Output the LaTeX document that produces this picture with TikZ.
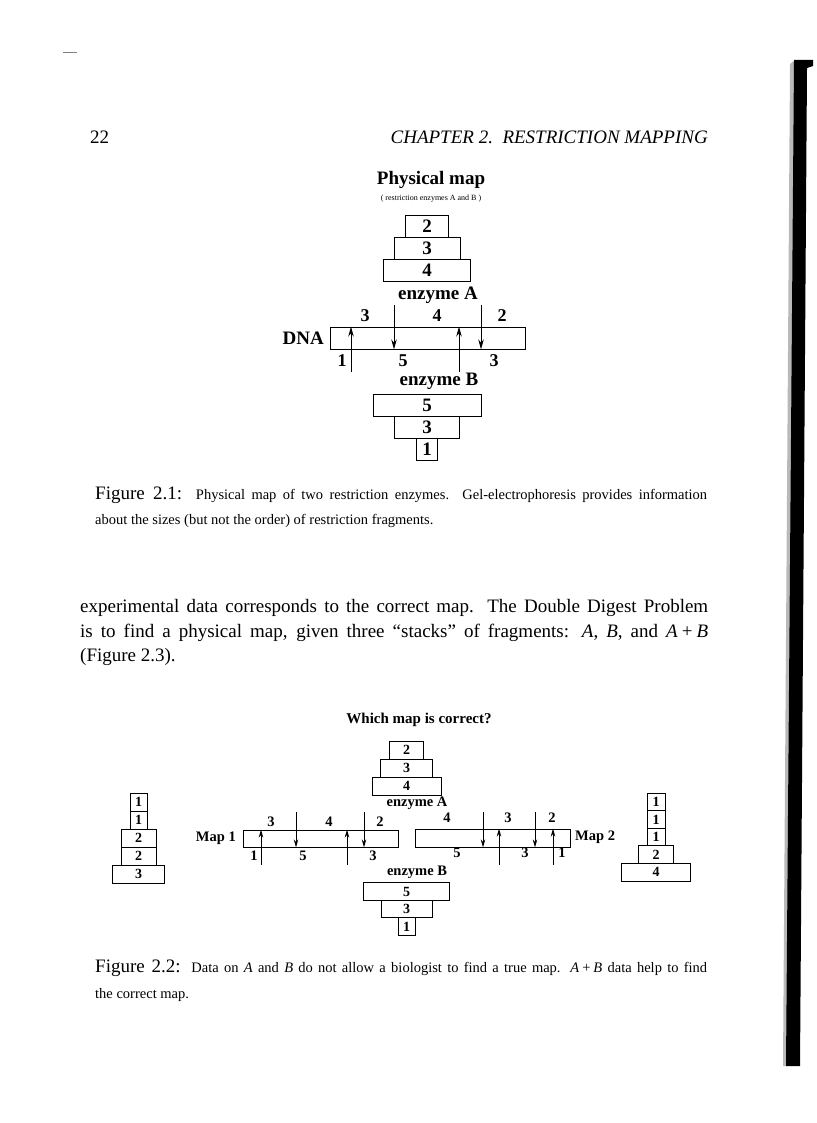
\documentclass[tikz,border=0pt]{standalone}
\usepackage{fontspec}
\setmainfont{Liberation Serif}
\usetikzlibrary{arrows.meta}

\newcommand{\fsz}[1]{\fontsize{#1}{#1}\selectfont}

\begin{document}
\begin{tikzpicture}[x=1pt, y=-1pt,
  frag/.style={draw, line width=0.8pt, inner sep=0pt, minimum height=22pt, font=\bfseries\fsz{19}},
  fragS/.style={frag, minimum height=18pt, font=\bfseries\fsz{14}},
  lbl/.style={inner sep=0pt, font=\bfseries\fsz{18}},
  lblS/.style={inner sep=0pt, font=\bfseries\fsz{14.5}},
  cut/.style={-{Stealth[length=10pt,width=5.5pt]}, line width=1pt},
  cutS/.style={-{Stealth[length=8pt,width=4.5pt]}, line width=0.9pt},
  txt/.style={inner sep=0pt, anchor=base west}]
  \useasboundingbox (0,0) rectangle (816,1123);

  % Cabecera
  \draw[gray, line width=1pt] (63,53) -- (77,53);
  \node[txt, font=\fsz{19}] (pag) at (90,144) {22};
  \node[inner sep=0pt, anchor=base east, font=\itshape\fsz{19}] (cap) at (708,144) {CHAPTER 2.\ \ RESTRICTION MAPPING};

  % Borde del escaneo
  \fill[gray!55] (790,64) -- (795,60) -- (788,1066) -- (783,1066) -- cycle;
  \fill (794,60) -- (813,60) -- (813,66) -- (807,68) -- (800,1066) -- (786,1066) -- cycle;

  % Mapa fisico
  \node[inner sep=0pt, font=\bfseries\fsz{19}] (titulo) at (431,180) {Physical map};
  \node[inner sep=0pt, font=\fsz{8}] (sub) at (431,199) {( restriction enzymes A and B )};

  % Fragmentos de la enzima A
  \node[frag, minimum width=43pt] (a2) at (427,226) {2};
  \node[frag, minimum width=66pt] (a3) at (427,248) {3};
  \node[frag, minimum width=87pt] (a4) at (427,270) {4};
  \node[lbl, font=\bfseries\fsz{19}] (enzA) at (438,295) {enzyme A};

  % ADN
  \node[frag, minimum width=195pt] (dna) at (427.5,338) {};
  \node[inner sep=0pt, anchor=east, font=\bfseries\fsz{19}] (dnal) at (324,338) {DNA};
  \node[lbl] at (365,316) {3};
  \node[lbl] at (437,316) {4};
  \node[lbl] at (502,316) {2};
  \node[lbl] at (342,361) {1};
  \node[lbl] at (403,361) {5};
  \node[lbl] at (494,361) {3};

  % Cortes
  \coordinate (ca1) at (394,305);
  \coordinate (ca2) at (481,305);
  \coordinate (cb1) at (351,372);
  \coordinate (cb2) at (459,372);
  \draw[cut] (ca1) -- (ca1 |- dna.south);
  \draw[cut] (ca2) -- (ca2 |- dna.south);
  \draw[cut] (cb1) -- (cb1 |- dna.north);
  \draw[cut] (cb2) -- (cb2 |- dna.north);

  % Fragmentos de la enzima B
  \node[lbl, font=\bfseries\fsz{19}] (enzB) at (439,381) {enzyme B};
  \node[frag, minimum width=108pt] (b5) at (427,405) {5};
  \node[frag, minimum width=65pt] (b3) at (427,427) {3};
  \node[frag, minimum width=21pt] (b1) at (427,449) {1};

  % Pie de la figura 2.1
  \node[txt] (pie1) at (95,499) {\makebox[612pt][s]{\fsz{19}Figure 2.1: \fsz{14.5}Physical map of two restriction enzymes. Gel-electrophoresis provides information}};
  \node[txt, font=\fsz{14.5}] (pie1b) at (95,524) {about the sizes (but not the order) of restriction fragments.};

  % Texto
  \node[txt, font=\fsz{19}] (t1) at (80,612) {\makebox[628pt][s]{experimental data corresponds to the correct map. The Double Digest Problem}};
  \node[txt, font=\fsz{19}] (t2) at (80,637) {\makebox[628pt][s]{is to find a physical map, given three “stacks” of fragments: \textit{A}, \textit{B}, and \textit{A}\hspace{4pt}+\hspace{4pt}\textit{B}}};
  \node[txt, font=\fsz{19}] (t3) at (80,661) {(Figure 2.3).};

  % Figura 2.2
  \node[lblS, font=\bfseries\fsz{15}] (preg) at (419,720) {Which map is correct?};

  % Enzima A
  \node[fragS, minimum width=34pt] (p2) at (406.5,750) {2};
  \node[fragS, minimum width=52pt] (p3) at (406.5,768) {3};
  \node[fragS, minimum width=69pt] (p4) at (406.5,786) {4};
  \node[lblS] (eA) at (417,803) {enzyme A};

  % Mapa 1
  \node[fragS, minimum height=17pt, minimum width=155pt] (m1) at (320.5,838.5) {};
  \node[lblS, anchor=east] (m1l) at (236,838) {Map 1};
  \node[lblS] at (271,822) {3};
  \node[lblS] at (329,822) {4};
  \node[lblS] at (380,822) {2};
  \node[lblS] at (254,856) {1};
  \node[lblS] at (303,856) {5};
  \node[lblS] at (373,856) {3};
  \coordinate (m1a1) at (296,812);
  \coordinate (m1a2) at (364,812);
  \coordinate (m1b1) at (261,865);
  \coordinate (m1b2) at (347,865);
  \draw[cutS] (m1a1) -- (m1a1 |- m1.south);
  \draw[cutS] (m1a2) -- (m1a2 |- m1.south);
  \draw[cutS] (m1b1) -- (m1b1 |- m1.north);
  \draw[cutS] (m1b2) -- (m1b2 |- m1.north);

  % Mapa 2
  \node[fragS, minimum width=155pt] (m2) at (492.5,838) {};
  \node[lblS, anchor=west] (m2l) at (575,837) {Map 2};
  \node[lblS] at (447,818) {4};
  \node[lblS] at (508,818) {3};
  \node[lblS] at (552,818) {2};
  \node[lblS] at (457,853) {5};
  \node[lblS] at (525,853) {3};
  \node[lblS] at (562,853) {1};
  \coordinate (m2a1) at (483,812);
  \coordinate (m2a2) at (535,812);
  \coordinate (m2b1) at (499,865);
  \coordinate (m2b2) at (553,865);
  \draw[cutS] (m2a1) -- (m2a1 |- m2.south);
  \draw[cutS] (m2a2) -- (m2a2 |- m2.south);
  \draw[cutS] (m2b1) -- (m2b1 |- m2.north);
  \draw[cutS] (m2b2) -- (m2b2 |- m2.north);

  % Enzima B
  \node[lblS] (eB) at (417,872) {enzyme B};
  \node[fragS, minimum height=17.5pt, minimum width=86pt] (q5) at (406.5,891.5) {5};
  \node[fragS, minimum height=17.5pt, minimum width=51pt] (q3) at (406.5,909) {3};
  \node[fragS, minimum height=17.5pt, minimum width=17pt] (q1) at (406.5,926.5) {1};

  % Pila A+B del mapa 1
  \node[fragS, minimum width=17pt] (i1) at (138.5,802) {1};
  \node[fragS, minimum width=17pt] (i2) at (138.5,820) {1};
  \node[fragS, minimum width=35pt] (i3) at (138.5,838) {2};
  \node[fragS, minimum width=35pt] (i4) at (138.5,856) {2};
  \node[fragS, minimum width=52pt] (i5) at (138.5,874) {3};

  % Pila A+B del mapa 2
  \node[fragS, minimum height=17.6pt, minimum width=18pt] (d1) at (656,801.8) {1};
  \node[fragS, minimum height=17.6pt, minimum width=18pt] (d2) at (656,819.4) {1};
  \node[fragS, minimum height=17.6pt, minimum width=18pt] (d3) at (656,837) {1};
  \node[fragS, minimum height=17.6pt, minimum width=35pt] (d4) at (656,854.6) {2};
  \node[fragS, minimum height=17.6pt, minimum width=69pt] (d5) at (656,872.2) {4};

  % Pie de la figura 2.2
  \node[txt] (pie2) at (95,972) {\makebox[612pt][s]{\fsz{19}Figure 2.2: \fsz{14.5}Data on \textit{A} and \textit{B} do not allow a biologist to find a true map. \textit{A}\hspace{3pt}+\hspace{3pt}\textit{B} data help to find}};
  \node[txt, font=\fsz{14.5}] (pie2b) at (95,998) {the correct map.};
\end{tikzpicture}
\end{document}
